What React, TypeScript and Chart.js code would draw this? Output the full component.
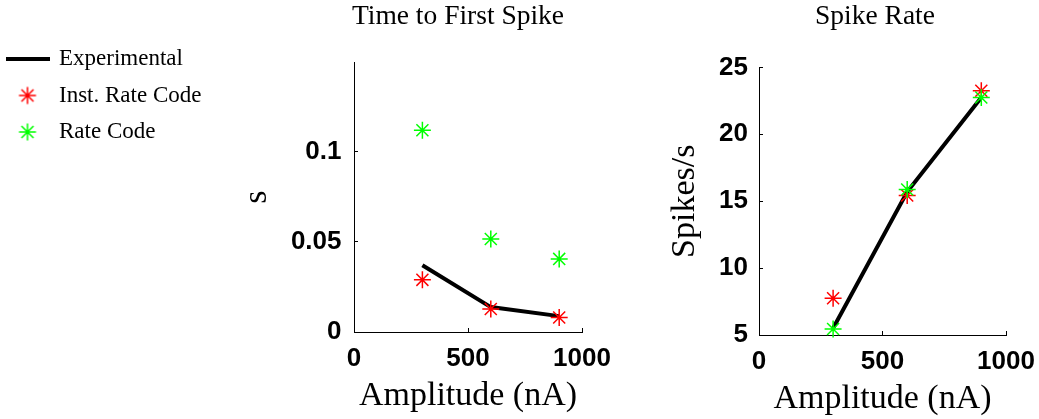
import React, { useEffect, useRef } from 'react';
import { Chart, registerables } from 'chart.js';

Chart.register(...registerables);

// ---- data ----
const amplitudes = [300, 600, 900];
const latencyExperimental = [0.037, 0.0138, 0.0088];
const latencyInstRate = [0.0289, 0.0127, 0.008];
const latencyRate = [0.1118, 0.0515, 0.0405];
const spikeRateExperimental = [5.5, 15.7, 22.75];
const spikeRateInstRate = [7.75, 15.43, 23.25];
const spikeRateRate = [5.45, 15.88, 22.75];

const amplitudeTicks = [0, 500, 1000];
const latencyTicks = [0, 0.05, 0.1];
const spikeRateTicks = [5, 10, 15, 20, 25];

const seriesNames = ['Experimental', 'Inst. Rate Code', 'Rate Code'];
const seriesColors = ['#000000', '#ff0000', '#00ff00'];
const chartTitles = ['Time to First Spike', 'Spike Rate'];
const xAxisTitle = 'Amplitude (nA)';
const yAxisTitles = ['s', 'Spikes/s'];

const SANS = "'Liberation Sans', Arial, Helvetica, sans-serif";
const SERIF = "'Liberation Serif', 'Times New Roman', serif";

const LEGEND_WIDTH = 214;

const toPoints = (ys: number[]) => amplitudes.map((x, i) => ({ x, y: ys[i] }));

function makeLineIcon(): HTMLCanvasElement {
  const c = document.createElement('canvas');
  c.width = 44;
  c.height = 4;
  const g = c.getContext('2d')!;
  g.fillStyle = seriesColors[0];
  g.fillRect(0, 0, 44, 4);
  return c;
}

function makeStarIcon(color: string): HTMLCanvasElement {
  const c = document.createElement('canvas');
  c.width = 20;
  c.height = 20;
  const g = c.getContext('2d')!;
  g.strokeStyle = color;
  g.lineWidth = 1.5;
  g.beginPath();
  for (let k = 0; k < 4; k++) {
    const a = (k * Math.PI) / 4;
    g.moveTo(10 - 8.5 * Math.cos(a), 10 - 8.5 * Math.sin(a));
    g.lineTo(10 + 8.5 * Math.cos(a), 10 + 8.5 * Math.sin(a));
  }
  g.stroke();
  return c;
}

type Params = {
  title: string;
  yTitle: string;
  exp: number[];
  inst: number[];
  rate: number[];
  yMin: number;
  yMax: number;
  yTicks: number[];
  titlePadBottom: number;
  plotLeft: number;
  padWidth: number;
  xHeight: number;
  xTickPad: number;
  yTickPad: number;
  xTitlePad: number;
  yTitlePad: number;
  icons: HTMLCanvasElement[] | null;
};

function makeConfig(p: Params): any {
  const tickFont = { family: SANS, size: 26, weight: 'bold' };
  const grid = {
    display: true,
    drawOnChartArea: false,
    drawTicks: true,
    tickLength: -4,
    color: '#000',
    lineWidth: 1,
  };
  const border = { display: true, color: '#000', width: 1 };
  const legend = p.icons
    ? {
        display: true,
        position: 'left',
        align: 'start',
        maxWidth: LEGEND_WIDTH,
        onClick: () => {},
        title: { display: true, text: '', font: { size: 10 }, padding: { top: 0, bottom: 22 } },
        labels: {
          usePointStyle: true,
          pointStyleWidth: 40,
          padding: 13.5,
          color: '#000',
          font: { family: SERIF, size: 23 },
          generateLabels: (chart: any) => {
            const items = Chart.defaults.plugins.legend.labels.generateLabels(chart);
            items.sort((a: any, b: any) => a.datasetIndex - b.datasetIndex);
            return items.map((it: any) => ({
              ...it,
              pointStyle: p.icons![it.datasetIndex],
              fontColor: '#000',
            }));
          },
        },
      }
    : { display: false };

  return {
    type: 'scatter',
    data: {
      datasets: [
        {
          label: seriesNames[0],
          data: toPoints(p.exp),
          showLine: true,
          borderColor: seriesColors[0],
          backgroundColor: seriesColors[0],
          borderWidth: 4,
          pointRadius: 0,
          pointHoverRadius: 0,
          clip: false,
          order: 3,
        },
        {
          label: seriesNames[1],
          data: toPoints(p.inst),
          pointStyle: 'star',
          pointRadius: 8.5,
          pointHoverRadius: 8.5,
          borderColor: seriesColors[1],
          backgroundColor: seriesColors[1],
          borderWidth: 1.5,
          pointBorderWidth: 1.5,
          clip: false,
          order: 2,
        },
        {
          label: seriesNames[2],
          data: toPoints(p.rate),
          pointStyle: 'star',
          pointRadius: 8.5,
          pointHoverRadius: 8.5,
          borderColor: seriesColors[2],
          backgroundColor: seriesColors[2],
          borderWidth: 1.5,
          pointBorderWidth: 1.5,
          clip: false,
          order: 1,
        },
      ],
    },
    options: {
      responsive: false,
      animation: false,
      events: [],
      layout: { padding: 0 },
      plugins: {
        title: {
          display: true,
          text: p.title,
          color: '#000',
          font: { family: SERIF, size: 27.5, weight: 'normal' },
          padding: { top: 0, bottom: p.titlePadBottom },
        },
        legend,
        tooltip: { enabled: false },
      },
      scales: {
        x: {
          type: 'linear',
          position: 'bottom',
          min: 0,
          max: 1000,
          afterBuildTicks: (s: any) => {
            s.ticks = amplitudeTicks.map((v) => ({ value: v }));
          },
          ticks: {
            font: tickFont,
            color: '#000',
            padding: p.xTickPad,
            maxRotation: 0,
            autoSkip: false,
            callback: (v: any) => String(v),
          },
          grid,
          border,
          title: {
            display: true,
            text: xAxisTitle,
            color: '#000',
            font: { family: SERIF, size: 34, weight: 'normal' },
            padding: { top: 0, bottom: p.xTitlePad },
          },
          afterFit: (s: any) => {
            s.height = p.xHeight;
          },
        },
        y: {
          type: 'linear',
          position: 'left',
          min: p.yMin,
          max: p.yMax,
          afterBuildTicks: (s: any) => {
            s.ticks = p.yTicks.map((v) => ({ value: v }));
          },
          ticks: {
            font: tickFont,
            color: '#000',
            padding: p.yTickPad,
            autoSkip: false,
            callback: (v: any) => String(v),
          },
          grid,
          border,
          title: {
            display: true,
            text: p.yTitle,
            color: '#000',
            font: { family: SERIF, size: 34, weight: 'normal' },
            padding: { top: p.yTitlePad, bottom: 0 },
          },
          afterFit: (s: any) => {
            const lw = s.chart.legend ? s.chart.legend.width || 0 : 0;
            s.width = p.plotLeft - lw;
          },
        },
        yPad: {
          type: 'linear',
          position: 'right',
          display: true,
          min: 0,
          max: 1,
          grid: { display: false },
          border: { display: false },
          ticks: { display: false },
          afterFit: (s: any) => {
            s.width = p.padWidth;
          },
        },
      },
    },
  };
}

export default function App() {
  const leftRef = useRef<HTMLCanvasElement>(null);
  const rightRef = useRef<HTMLCanvasElement>(null);

  useEffect(() => {
    const icons = [makeLineIcon(), makeStarIcon(seriesColors[1]), makeStarIcon(seriesColors[2])];
    const left = new Chart(
      leftRef.current!,
      makeConfig({
        title: chartTitles[0],
        yTitle: yAxisTitles[0],
        exp: latencyExperimental,
        inst: latencyInstRate,
        rate: latencyRate,
        yMin: 0,
        yMax: 0.1494,
        yTicks: latencyTicks,
        titlePadBottom: 29.4,
        plotLeft: 360,
        padWidth: 340,
        xHeight: 87,
        xTickPad: 15,
        yTickPad: 16.5,
        xTitlePad: 2.6,
        yTitlePad: 263.5 - LEGEND_WIDTH - 20.4,
        icons,
      })
    );
    const right = new Chart(
      rightRef.current!,
      makeConfig({
        title: chartTitles[1],
        yTitle: yAxisTitles[1],
        exp: spikeRateExperimental,
        inst: spikeRateInstRate,
        rate: spikeRateRate,
        yMin: 5,
        yMax: 25,
        yTicks: spikeRateTicks,
        titlePadBottom: 34.4,
        plotLeft: 119,
        padWidth: 104,
        xHeight: 84,
        xTickPad: 15.5,
        yTickPad: 15,
        xTitlePad: 0,
        yTitlePad: 24.5,
        icons: null,
      })
    );
    return () => {
      left.destroy();
      right.destroy();
    };
  }, []);

  return (
    <div
      style={{
        position: 'absolute',
        left: 0,
        top: 0,
        width: 1039,
        height: 419,
        overflow: 'hidden',
        background: '#fff',
      }}
    >
      <canvas
        ref={leftRef}
        width={928}
        height={419}
        style={{ position: 'absolute', left: -6, top: 0, width: 928, height: 419 }}
      />
      <canvas
        ref={rightRef}
        width={470}
        height={419}
        style={{ position: 'absolute', left: 640, top: 0, width: 470, height: 419 }}
      />
    </div>
  );
}
